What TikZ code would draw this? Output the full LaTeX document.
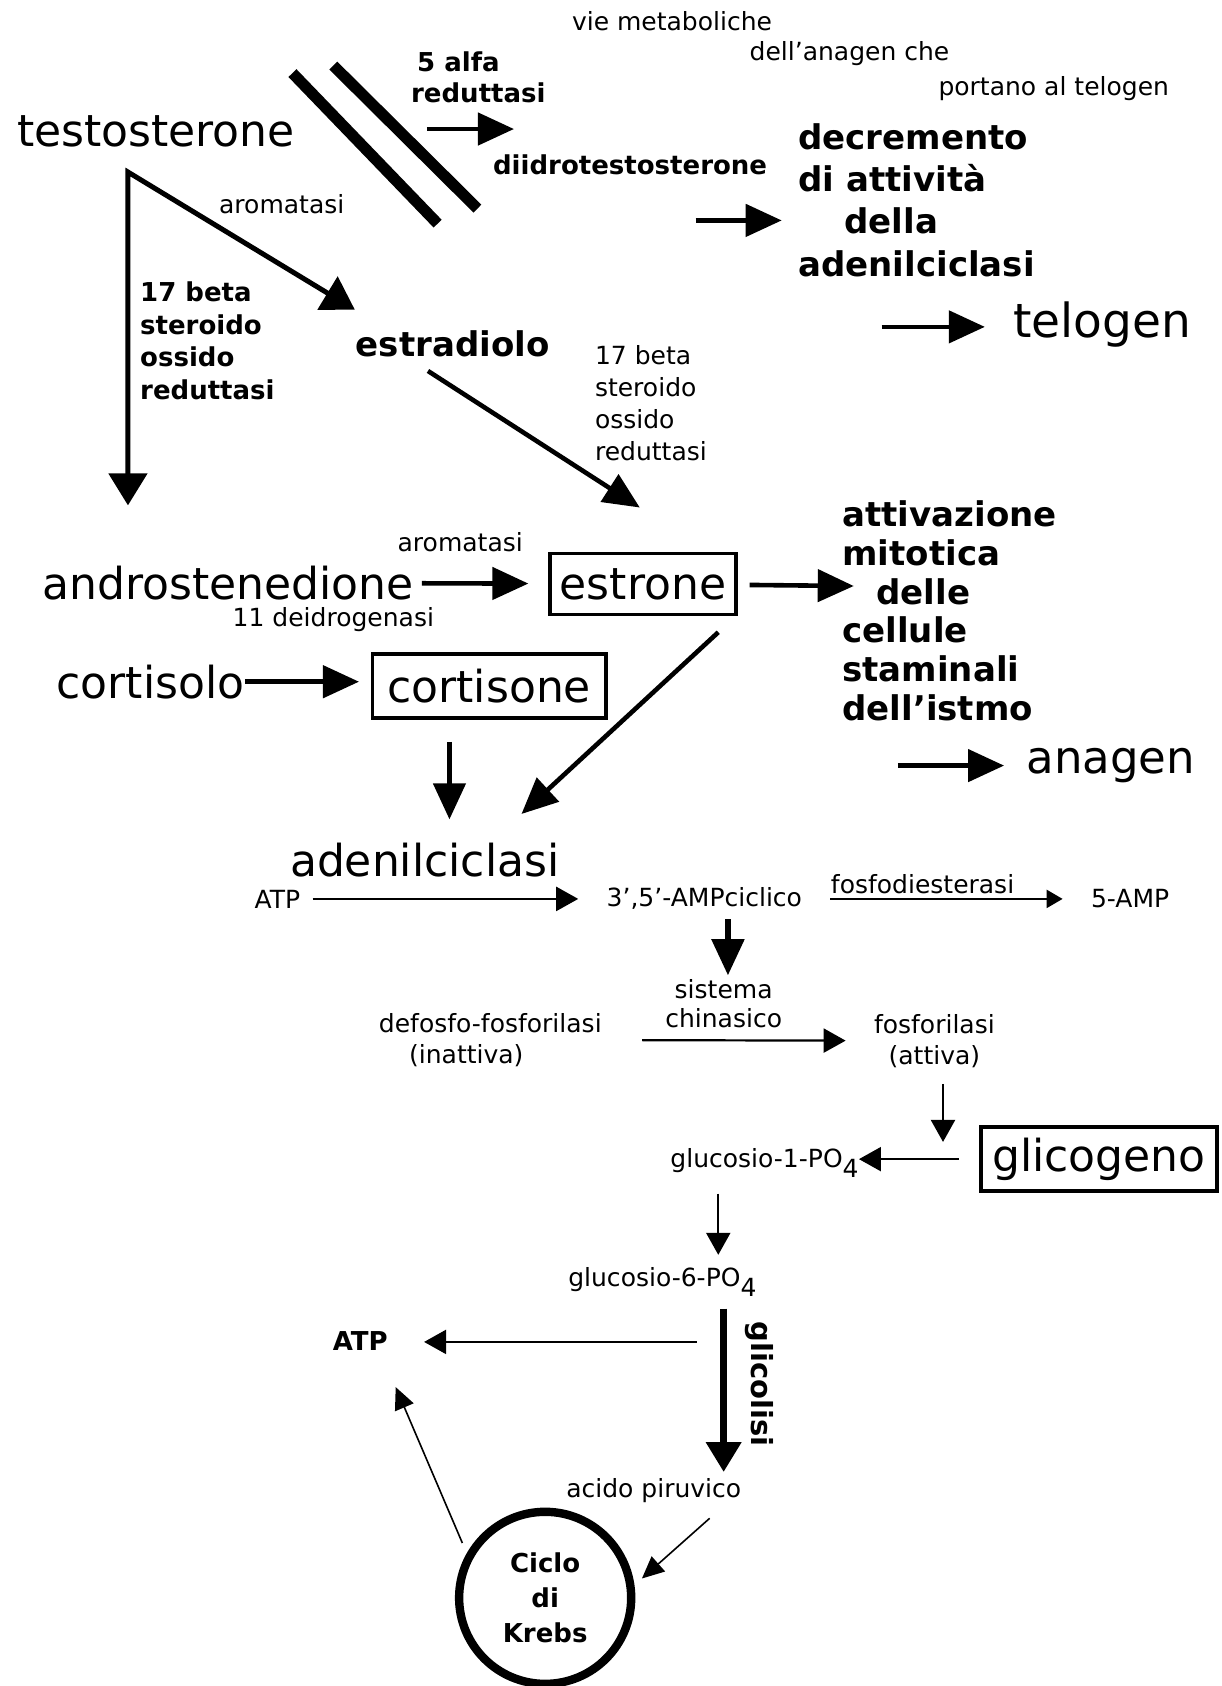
\documentclass[tikz,border=0pt]{standalone}
\usepackage{fontspec}
\setmainfont{DejaVu Sans}
\usetikzlibrary{arrows.meta}

\newcommand{\pedice}[1]{\raisebox{-5pt}{#1}}

\begin{document}
\begin{tikzpicture}[x=0.5374pt, y=-0.5374pt,
    every node/.style={inner sep=0pt},
    grande/.style={font=\fontsize{22}{26}\selectfont},
    medio/.style={font=\bfseries\fontsize{17}{21}\selectfont, align=left},
    nero/.style={font=\bfseries\fontsize{13}{16.3}\selectfont, align=left},
    piccolo/.style={font=\fontsize{12.5}{15.5}\selectfont, align=center},
    scatola/.style={draw, line width=1.6pt, minimum width=93pt, minimum height=30.6pt},
    freccia/.style={line width=2.3pt, -{Triangle[length=18pt,width=16pt]}},
    frecciam/.style={line width=1.1pt, -{Triangle[length=11pt,width=12pt]}},
    freccina/.style={line width=0.8pt, -{Triangle[length=11pt,width=10pt]}},
    sbarra/.style={line width=5.6pt}]
  \useasboundingbox (0,0) rectangle (1136,1568);

  % Titolo
  \node[piccolo] (vie) at (625,20) {vie metaboliche};
  \node[piccolo] (anagenche) at (790,50) {dell'anagen che};
  \node[piccolo] (portano) at (980,82) {portano al telogen};

  % Testosterone e derivati
  \node[grande] (testosterone) at (145,122) {testosterone};
  \node[nero, anchor=west, font=\bfseries\fontsize{13}{15.6}\selectfont] (alfa) at (382,72) {\hspace*{3pt}5 alfa\\reduttasi};
  \node[nero] (diidro) at (586,153) {diidrotestosterone};
  \node[medio, anchor=west, font=\bfseries\fontsize{17}{21.1}\selectfont] (decremento) at (742,186)
    {decremento\\di attività\\\hspace*{23pt}della\\adenilciclasi};
  \node[grande, font=\fontsize{23.5}{26}\selectfont] (telogen) at (1025,302) {telogen};

  \node[piccolo] (aroma1) at (262,190) {aromatasi};
  \node[nero, anchor=west] (beta1) at (130,317) {17 beta\\steroido\\ossido\\reduttasi};
  \node[medio] (estradiolo) at (421,320) {estradiolo};
  \node[piccolo, anchor=west, align=left, font=\fontsize{12.5}{16.1}\selectfont] (beta2) at (553,375)
    {17 beta\\steroido\\ossido\\reduttasi};

  % Estrone e cortisone
  \node[piccolo] (aroma2) at (428,504) {aromatasi};
  \node[grande] (andro) at (212,542) {androstenedione};
  \node[grande, scatola] (estrone) at (598,543) {estrone};
  \node[piccolo] (deidro) at (310,576) {11 deidrogenasi};
  \node[grande] (cortisolo) at (140,634) {cortisolo};
  \node[grande, scatola, minimum width=116.6pt, minimum height=32pt] (cortisone) at (455,638) {cortisone};
  \node[medio, anchor=west, font=\bfseries\fontsize{17}{19.4}\selectfont] (attivazione) at (783,568)
    {attivazione\\mitotica\\\hspace*{17pt}delle\\cellule\\staminali\\dell'istmo};
  \node[grande, font=\fontsize{22.5}{26}\selectfont] (anagen) at (1033,712) {anagen};

  % Adenilciclasi e glicogeno
  \node[grande] (adenil) at (395,800) {adenilciclasi};
  \node[piccolo] (atp1) at (258,836) {ATP};
  \node[piccolo] (amp) at (655,836) {3',5'-AMPciclico};
  \node[piccolo] (fosfodi) at (858,822) {fosfodiesterasi};
  \node[piccolo] (cinqueamp) at (1051,836) {5-AMP};
  \node[piccolo, font=\fontsize{12.5}{14.5}\selectfont] (chinasi) at (673,933) {sistema\\chinasico};
  \node[piccolo] (defosfo) at (456,967) {defosfo-fosforilasi\\(inattiva)\hspace*{24pt}};
  \node[piccolo] (fosforilasi) at (869,968) {fosforilasi\\(attiva)};
  \node[grande, scatola, line width=2.2pt, minimum width=118pt, minimum height=32pt] (glicogeno) at (1022,1078) {glicogeno};
  \node[piccolo] (gluc1) at (711,1082) {glucosio-1-PO\pedice{4}};
  \node[piccolo] (gluc6) at (616,1192) {glucosio-6-PO\pedice{4}};
  \node[nero, font=\bfseries\fontsize{14.5}{17}\selectfont, rotate=-90] (glicolisi) at (706,1287) {glicolisi};
  \node[nero] (atp2) at (335,1247) {ATP};
  \node[piccolo] (piruvico) at (608,1386) {acido piruvico};
  \node[circle, draw, line width=4.2pt, minimum size=86pt, nero, align=center,
    font=\bfseries\fontsize{13}{17.7}\selectfont] (krebs) at (507,1486) {Ciclo\\di\\Krebs};

  % Punti liberi delle frecce
  \coordinate (fa1) at (397,120);   \coordinate (fa2) at (478,120);
  \coordinate (fb1) at (647,205);   \coordinate (fb2) at (727,205);
  \coordinate (ft) at (820,304);
  \coordinate (bivio) at (119,160); \coordinate (fr1) at (119,470); \coordinate (fr2) at (330,288);
  \coordinate (fe1) at (398,345);   \coordinate (fe2) at (595,472);
  \coordinate (fs) at (794,545);
  \coordinate (fc1) at (418,690);   \coordinate (fc2) at (418,762);
  \coordinate (fd1) at (668,588);   \coordinate (fd2) at (485,757);
  \coordinate (fn) at (835,712);
  \coordinate (fk1) at (677,855);   \coordinate (fk2) at (677,907);
  \coordinate (fg1) at (877,1008);  \coordinate (fg2) at (877,1062);
  \coordinate (fh1) at (668,1110);  \coordinate (fh2) at (668,1167);
  \coordinate (fi1) at (673,1217);  \coordinate (fi2) at (673,1369);
  \coordinate (fj) at (648,1248);
  \coordinate (fl1) at (660,1412);  \coordinate (fl2) at (597,1468);
  \coordinate (fm1) at (430,1435);  \coordinate (fm2) at (368,1290);

  % Sbarre (5 alfa reduttasi bloccata)
  \draw[sbarra] (272,68) -- (407,208);
  \draw[sbarra] (310,61) -- (444,194);

  % Collegamenti in alto
  \draw[freccia] (fa1) -- (fa2);
  \draw[freccia] (fb1) -- (fb2);
  \draw[freccia, shorten >=14pt] (ft) -- (ft -| telogen.west);
  \draw[line width=2.5pt, {Triangle[length=16pt,width=19pt]}-{Triangle[length=16pt,width=19pt]}] (fr2) -- (bivio) -- (fr1);
  \draw[freccia] (fe1) -- (fe2);
  \draw[freccia, shorten <=4pt, shorten >=10pt] (andro) -- (estrone);
  \draw[freccia, shorten >=6pt] (cortisolo) -- (cortisolo -| cortisone.west);
  \draw[freccia, shorten <=6pt] (estrone) -- (fs);
  \draw[freccia] (fc1) -- (fc2);
  \draw[freccia] (fd1) -- (fd2);
  \draw[freccia, shorten >=11pt] (fn) -- (fn -| anagen.west);

  % Collegamenti in basso
  \draw[frecciam, shorten <=6pt, shorten >=14pt] (atp1) -- (amp);
  \draw[line width=1.1pt, -{Triangle[length=8pt,width=9pt]}, shorten <=14pt, shorten >=14pt] (amp) -- (cinqueamp);
  \draw[freccia, line width=2.6pt] (fk1) -- (fk2);
  \draw[frecciam, shorten <=20pt, shorten >=14pt] (defosfo) -- (fosforilasi);
  \draw[frecciam] (fg1) -- (fg2);
  \draw[frecciam, shorten <=10pt] (glicogeno) -- (glicogeno -| gluc1.east);
  \draw[frecciam] (fh1) -- (fh2);
  \draw[line width=3.6pt, -{Triangle[length=15pt,width=17pt]}] (fi1) -- (fi2);
  \draw[frecciam, shorten >=18pt] (fj) -- (fj -| atp2.east);
  \draw[freccina] (fl1) -- (fl2);
  \draw[freccina] (fm1) -- (fm2);
\end{tikzpicture}
\end{document}
